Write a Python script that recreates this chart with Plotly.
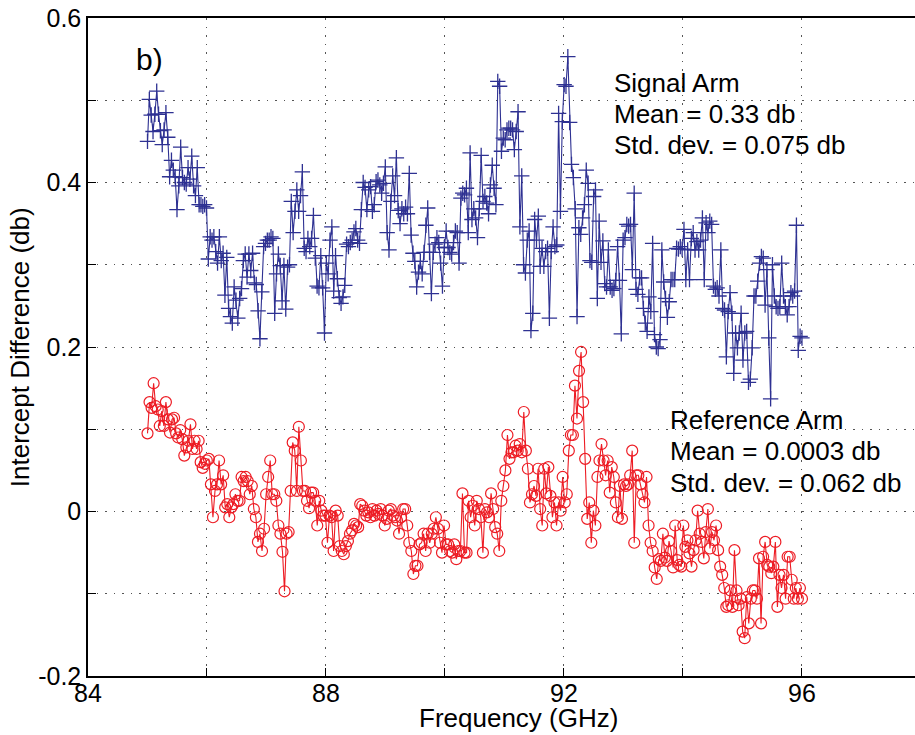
import numpy as np
import plotly.graph_objects as go

# Signal arm intercept difference (db), 85 -> 96 GHz
signal_arm = [
    0.450, 0.501, 0.482, 0.462, 0.483, 0.511, 0.483, 0.463, 0.446, 0.464, 0.485, 0.455, 0.407, 0.427, 0.415, 0.407,
    0.367, 0.396, 0.443, 0.406, 0.400, 0.398, 0.418, 0.404, 0.432, 0.396, 0.384, 0.418, 0.373, 0.373, 0.371, 0.373,
    0.369, 0.307, 0.334, 0.330, 0.334, 0.316, 0.302, 0.334, 0.305, 0.314, 0.263, 0.309, 0.247, 0.237, 0.229, 0.273,
    0.257, 0.235, 0.259, 0.271, 0.305, 0.313, 0.285, 0.313, 0.293, 0.314, 0.278, 0.276, 0.244, 0.210, 0.267, 0.322,
    0.326,
    0.330, 0.330, 0.334, 0.332, 0.241, 0.289, 0.313, 0.299, 0.256, 0.299, 0.246, 0.297, 0.300, 0.377, 0.339, 0.365,
    0.391, 0.365, 0.384, 0.413, 0.320, 0.316, 0.332, 0.322, 0.332, 0.360, 0.308, 0.274, 0.272, 0.311, 0.272, 0.217,
    0.302, 0.289, 0.330, 0.346, 0.268, 0.311, 0.283, 0.260, 0.253, 0.261, 0.275, 0.325, 0.322, 0.327, 0.330, 0.340,
    0.344, 0.330, 0.326, 0.367, 0.400, 0.394, 0.367, 0.391, 0.395, 0.365, 0.373, 0.401, 0.403, 0.397, 0.387, 0.399,
    0.419, 0.339, 0.318, 0.377, 0.408, 0.384, 0.430,
    0.366, 0.350, 0.368, 0.362, 0.370, 0.362, 0.411, 0.336, 0.314, 0.304, 0.273, 0.291, 0.304, 0.289, 0.315, 0.348,
    0.369, 0.315, 0.265, 0.315, 0.325, 0.333, 0.327, 0.302, 0.274, 0.321, 0.341, 0.321, 0.315, 0.313, 0.327, 0.341,
    0.339, 0.302, 0.381, 0.387, 0.385, 0.393, 0.339, 0.436, 0.355, 0.368, 0.357, 0.333, 0.368, 0.433, 0.377, 0.383,
    0.375, 0.362, 0.397, 0.421, 0.393, 0.373, 0.523, 0.517, 0.438, 0.454, 0.452, 0.464, 0.466, 0.466, 0.464, 0.440,
    0.462, 0.486, 0.346, 0.408, 0.300, 0.290, 0.330, 0.341, 0.220, 0.241, 0.355, 0.330,
    0.359, 0.298, 0.320, 0.298, 0.316, 0.320, 0.235, 0.316, 0.346, 0.322, 0.324, 0.484, 0.365, 0.474, 0.519, 0.517,
    0.553, 0.473, 0.422, 0.406, 0.368, 0.237, 0.345, 0.337, 0.357, 0.373, 0.415, 0.399, 0.305, 0.303, 0.383, 0.391,
    0.259, 0.353, 0.303, 0.329, 0.277, 0.273, 0.318, 0.273, 0.269, 0.271, 0.281, 0.322, 0.281, 0.216, 0.330, 0.333,
    0.349, 0.347, 0.349, 0.294, 0.387, 0.270, 0.264, 0.284, 0.284, 0.247, 0.229, 0.219, 0.261, 0.243, 0.326, 0.215,
    0.200, 0.198, 0.209, 0.318, 0.279, 0.259,
    0.236, 0.255, 0.282, 0.282, 0.282, 0.320, 0.319, 0.322, 0.319, 0.343, 0.282, 0.318, 0.282, 0.332, 0.339, 0.318,
    0.328, 0.318, 0.330, 0.357, 0.282, 0.351, 0.339, 0.353, 0.349, 0.274, 0.270, 0.272, 0.262, 0.318, 0.247, 0.245,
    0.188, 0.243, 0.266, 0.241, 0.168, 0.217, 0.199, 0.217, 0.241, 0.184, 0.217, 0.219, 0.157, 0.161, 0.199, 0.262,
    0.262, 0.280, 0.302, 0.310, 0.308, 0.251, 0.294, 0.211, 0.137, 0.300, 0.262, 0.249, 0.247, 0.249, 0.302, 0.262,
    0.249, 0.239, 0.249, 0.266, 0.262, 0.268, 0.348, 0.196, 0.213, 0.211,
]

# Reference arm intercept difference (db), 85 -> 96 GHz
reference_arm = [
    0.095, 0.133, 0.126, 0.156, 0.128, 0.124, 0.104, 0.122, 0.104, 0.133, 0.112, 0.096, 0.112, 0.114, 0.095, 0.090,
    0.099, 0.088, 0.068, 0.078, 0.086, 0.106, 0.076, 0.086, 0.076, 0.086, 0.060, 0.053, 0.058, 0.062, 0.064, 0.033,
    -0.007, 0.025, 0.033, 0.062, 0.033, 0.044, 0.005, 0.009, -0.007, 0.005, 0.009, 0.021, 0.013, 0.013, 0.042, 0.037,
    0.042, 0.037, 0.021, 0.031, 0.003, -0.007, -0.037, -0.027, -0.048, -0.021, 0.021, 0.042, 0.062,
    0.021, 0.021, 0.013, -0.017, -0.027, -0.049, -0.097, -0.027, -0.025, 0.025, 0.084, 0.074, 0.025, 0.103, 0.062,
    0.025, 0.025, 0.013, 0.004, 0.023, 0.023, 0.013, -0.017, 0.013, 0.001, -0.005, -0.005, -0.038, -0.005, -0.007,
    -0.048, 0.001, -0.005, -0.042, -0.048, -0.052, -0.042, -0.036, -0.027, -0.023, -0.015, -0.017, -0.019, 0.009,
    0.007, 0.001, -0.005, -0.001, -0.007, 0.003, -0.005, 0.001, -0.003, 0.003, -0.005, -0.017, -0.009, 0.001, 0.003,
    -0.005,
    -0.007, -0.011, -0.027, -0.007, 0.003, 0.003, -0.017, -0.038, -0.048, -0.076, -0.066, -0.066, -0.040, -0.038,
    -0.027, -0.048, -0.027, -0.038, -0.027, -0.021, -0.007, -0.021, -0.038, -0.050, -0.017, -0.040, -0.040, -0.048,
    -0.050, -0.040, -0.058, -0.048, -0.048, 0.022, -0.050, -0.050, 0.013, -0.007, 0.007, -0.017, 0.013, 0.003, -0.007,
    -0.050, 0.003, -0.001, -0.007, 0.022, 0.003, -0.019, -0.027, -0.048, 0.013, 0.031, 0.050, 0.093, 0.064, 0.072,
    0.072, 0.080, 0.074, 0.082, 0.072, 0.121, 0.074, 0.052, 0.011, 0.021, 0.031, 0.019, 0.052, 0.003, -0.017, 0.052,
    0.022,
    0.054, 0.019, -0.007, 0.011, -0.017, 0.011, 0.001, 0.042, 0.011, 0.021, 0.074, 0.093, 0.093, 0.153, 0.113, 0.171,
    0.194, 0.133, 0.064, -0.009, 0.011, -0.038, 0.001, -0.017, 0.042, 0.062, 0.082, 0.062, 0.044, 0.062, 0.023, 0.054,
    0.042, 0.011, -0.007, 0.031, -0.009, 0.033, 0.031, 0.033, 0.044, 0.074, -0.038, 0.044, 0.044, 0.033, 0.021, 0.011,
    0.042, -0.017, -0.038, -0.048, -0.068, -0.082, -0.058, -0.060, -0.027, -0.056, -0.060, -0.036, -0.048, -0.068,
    -0.017,
    -0.059, -0.065, -0.067, -0.017, -0.043, -0.035, -0.051, -0.067, -0.047, -0.035, 0.001, -0.027, -0.037, -0.057,
    -0.025, 0.003, -0.045, -0.025, -0.035, -0.017, -0.047, -0.067, -0.077, -0.093, -0.116, -0.114, -0.096, -0.116,
    -0.047, -0.096, -0.114, -0.106, -0.146, -0.154, -0.104, -0.136, -0.106, -0.096, -0.096, -0.106, -0.057, -0.136,
    -0.055, -0.037, -0.065, -0.067, -0.075, -0.067, -0.037, -0.116, -0.077, -0.093, -0.077, -0.106, -0.055, -0.055,
    -0.083, -0.106, -0.093, -0.106, -0.093, -0.106,
]

freq_start, freq_stop = 85.0, 96.0
signal_freq = np.linspace(freq_start, freq_stop, len(signal_arm))
reference_freq = np.linspace(freq_start, freq_stop, len(reference_arm))

x_tick_vals = [84, 88, 92, 96]
y_tick_vals = [-0.2, 0, 0.2, 0.4, 0.6]
y_tick_text = ["-0.2", "0", "0.2", "0.4", "0.6"]

signal_text = ["Signal Arm", "Mean = 0.33 db", "Std. dev. = 0.075 db"]
reference_text = ["Reference Arm", "Mean = 0.0003 db", "Std. dev. = 0.062 db"]

BLUE = "#2e3192"
RED = "#ed1c24"
FONT = "Liberation Sans, Arial, sans-serif"
GRID = "#555555"
DOTS = "1.5px,7px"

fig = go.Figure()
fig.add_trace(go.Scatter(
    x=signal_freq, y=signal_arm, mode="lines+markers",
    line=dict(color=BLUE, width=1.1),
    marker=dict(symbol="cross-thin", size=11, line=dict(color=BLUE, width=1.3)),
    showlegend=False, name="Signal Arm",
))
fig.add_trace(go.Scatter(
    x=reference_freq, y=reference_arm, mode="lines+markers",
    line=dict(color=RED, width=1.1),
    marker=dict(symbol="circle-open", size=11, color=RED, line=dict(color=RED, width=1.2)),
    showlegend=False, name="Reference Arm",
))

annotations = []
for i, t in enumerate(signal_text):
    annotations.append(dict(x=92.8, y=0.521 - i * 0.0375, text=t, xref="x", yref="y",
                            xanchor="left", yanchor="middle", showarrow=False,
                            font=dict(size=26, color="black", family=FONT)))
for i, t in enumerate(reference_text):
    annotations.append(dict(x=93.75, y=0.111 - i * 0.038, text=t, xref="x", yref="y",
                            xanchor="left", yanchor="middle", showarrow=False,
                            font=dict(size=26, color="black", family=FONT)))
annotations.append(dict(x=84.78, y=0.549, text="b)", xref="x", yref="y",
                        xanchor="left", yanchor="middle", showarrow=False,
                        font=dict(size=30, color="black", family=FONT)))
annotations.append(dict(x=0.521, y=-0.064, text="Frequency (GHz)", xref="paper", yref="paper",
                        xanchor="center", yanchor="middle", showarrow=False,
                        font=dict(size=26, color="black", family=FONT)))
annotations.append(dict(x=-0.082, y=0.5, text="Intercept Difference (db)", xref="paper", yref="paper",
                        xanchor="center", yanchor="middle", showarrow=False, textangle=-90,
                        font=dict(size=26, color="black", family=FONT)))

fig.update_layout(
    width=915, height=735,
    margin=dict(l=88, r=0, t=18, b=59, autoexpand=False),
    paper_bgcolor="white", plot_bgcolor="white",
    font=dict(family=FONT, size=25, color="black"),
    annotations=annotations,
    xaxis=dict(
        range=[84, 97.9], tickvals=x_tick_vals, ticktext=[str(v) for v in x_tick_vals],
        ticks="inside", ticklen=8, tickcolor="black", tickwidth=1,
        showline=True, linecolor="black", linewidth=1.5, mirror=True,
        zeroline=False, tickfont=dict(size=25), automargin=False,
        ticklabelstandoff=-6,
        showgrid=True, gridcolor=GRID, gridwidth=1, griddash=DOTS,
        minor=dict(dtick=2, tick0=84, ticks="inside", ticklen=8, tickcolor="black",
                   showgrid=True, gridcolor=GRID, gridwidth=1, griddash=DOTS),
    ),
    yaxis=dict(
        range=[-0.2, 0.6], tickvals=y_tick_vals, ticktext=y_tick_text,
        ticks="inside", ticklen=8, tickcolor="black", tickwidth=1,
        showline=True, linecolor="black", linewidth=1.5, mirror=False,
        zeroline=False, tickfont=dict(size=25), automargin=False,
        showgrid=True, gridcolor=GRID, gridwidth=1, griddash=DOTS,
        minor=dict(dtick=0.1, tick0=0, ticks="inside", ticklen=8, tickcolor="black",
                   showgrid=True, gridcolor=GRID, gridwidth=1, griddash=DOTS),
    ),
)

fig.write_html(
    "out.html",
    config={"displayModeBar": False},
    post_script="document.body.style.margin='0';document.body.style.padding='0';document.body.style.overflow='hidden';",
)
